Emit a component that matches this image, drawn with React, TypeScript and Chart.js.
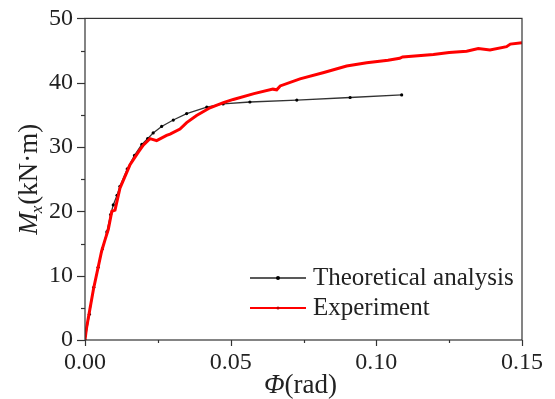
import React, { useEffect, useRef } from "react";
import { Chart, registerables } from "chart.js";

Chart.register(...registerables);

const expX = [0, 0.0005, 0.0029, 0.0057, 0.0069, 0.008, 0.0092, 0.0103, 0.012, 0.0154, 0.0183, 0.02, 0.0223, 0.0246, 0.028, 0.0292, 0.0326, 0.0349, 0.0383, 0.0429, 0.0475, 0.0509, 0.058, 0.0645, 0.0658, 0.067, 0.0738, 0.082, 0.0898, 0.0967, 0.104, 0.108, 0.109, 0.1196, 0.125, 0.131, 0.135, 0.139, 0.1447, 0.146, 0.15];
const expY = [0, 1.8, 7.9, 13.8, 15.6, 17.2, 20.0, 20.2, 23.6, 27.2, 29.2, 30.3, 31.3, 31.0, 31.8, 32.0, 32.8, 33.8, 34.9, 36.1, 36.9, 37.4, 38.3, 39.0, 38.9, 39.5, 40.6, 41.6, 42.6, 43.1, 43.5, 43.8, 44.0, 44.4, 44.7, 44.9, 45.3, 45.1, 45.6, 46.0, 46.2];

const theoX = [0, 0.0015, 0.003, 0.0045, 0.006, 0.0075, 0.0088, 0.0097, 0.011, 0.012, 0.0145, 0.017, 0.0195, 0.0215, 0.0234, 0.0263, 0.0303, 0.0349, 0.0418, 0.0474, 0.0566, 0.0727, 0.091, 0.1087];
const theoY = [0, 4, 8.2, 11.3, 14.2, 16.8, 19.5, 21, 22.5, 23.9, 26.6, 28.7, 30.4, 31.3, 32.2, 33.2, 34.2, 35.2, 36.2, 36.7, 37.0, 37.3, 37.7, 38.1];

const seriesNames = ["Theoretical analysis", "Experiment"];
const xTickLabels = ["0.00", "0.05", "0.10", "0.15"];
const yTickLabels = ["0", "10", "20", "30", "40", "50"];

const SERIF = '"Liberation Serif", "Times New Roman", serif';
const TEXT = "#222";
const AXIS = "#333";

const customPlugin = {
  id: "customDecor",
  afterDraw(chart: any) {
    const { ctx, chartArea } = chart;
    const xs = chart.scales.x;
    const ys = chart.scales.y;
    ctx.save();
    // frame
    ctx.strokeStyle = AXIS;
    ctx.lineWidth = 1.2;
    ctx.strokeRect(chartArea.left, chartArea.top, chartArea.right - chartArea.left, chartArea.bottom - chartArea.top);
    // ticks
    ys.ticks.forEach((t: any, i: number) => {
      const p = Math.round(ys.getPixelForValue(t.value)) + 0.5;
      const len = i % 2 === 0 ? 8 : 4;
      ctx.beginPath();
      ctx.moveTo(chartArea.left, p);
      ctx.lineTo(chartArea.left - len, p);
      ctx.stroke();
    });
    xs.ticks.forEach((t: any, i: number) => {
      const p = Math.round(xs.getPixelForValue(t.value)) + 0.5;
      const len = i % 2 === 0 ? 6 : 3;
      ctx.beginPath();
      ctx.moveTo(p, chartArea.bottom);
      ctx.lineTo(p, chartArea.bottom + len);
      ctx.stroke();
    });

    // x title
    ctx.fillStyle = TEXT;
    ctx.textBaseline = "alphabetic";
    ctx.textAlign = "left";
    const fPhi = "italic 27px " + SERIF;
    const fReg = "27px " + SERIF;
    ctx.font = fPhi;
    const wPhi = ctx.measureText("Φ").width;
    ctx.font = fReg;
    const wRad = ctx.measureText("(rad)").width;
    const cx = (chartArea.left + chartArea.right) / 2 - 3;
    let sx = cx - (wPhi + wRad) / 2;
    ctx.font = fPhi;
    ctx.fillText("Φ", sx, 393);
    ctx.font = fReg;
    ctx.fillText("(rad)", sx + wPhi, 393);

    // y title
    ctx.save();
    ctx.translate(37, (chartArea.top + chartArea.bottom) / 2);
    ctx.rotate(-Math.PI / 2);
    const fM = "italic 27px " + SERIF;
    const fSub = "italic 17px " + SERIF;
    ctx.font = fM;
    const wM = ctx.measureText("M").width;
    ctx.font = fSub;
    const wS = ctx.measureText("x").width;
    ctx.font = fReg;
    const wU = ctx.measureText("(kN·m)").width;
    let ty = -(wM + wS + wU) / 2;
    ctx.font = fM;
    ctx.fillText("M", ty, 0);
    ctx.font = fSub;
    ctx.fillText("x", ty + wM - 1, 5);
    ctx.font = fReg;
    ctx.fillText("(kN·m)", ty + wM + wS, 0);
    ctx.restore();

    // legend
    const lx0 = 250, lx1 = 306;
    const rows = [
      { y: 278, color: "#222", w: 1.5, r: 2, name: seriesNames[0] },
      { y: 308, color: "#ff0000", w: 2, r: 1.5, name: seriesNames[1] },
    ];
    rows.forEach((row) => {
      ctx.strokeStyle = row.color;
      ctx.lineWidth = row.w;
      ctx.beginPath();
      ctx.moveTo(lx0, row.y);
      ctx.lineTo(lx1, row.y);
      ctx.stroke();
      ctx.fillStyle = row.color === "#ff0000" ? "#b00" : "#000";
      ctx.beginPath();
      ctx.arc((lx0 + lx1) / 2, row.y, row.r, 0, Math.PI * 2);
      ctx.fill();
      ctx.fillStyle = TEXT;
      ctx.font = "25px " + SERIF;
      ctx.textBaseline = "alphabetic";
      ctx.fillText(row.name, 313, row.y + 7);
    });
    ctx.restore();
  },
};

export default function App() {
  const ref = useRef<HTMLCanvasElement | null>(null);
  useEffect(() => {
    if (!ref.current) return;
    const expData = expX.map((x, i) => ({ x, y: expY[i] }));
    const theoData = theoX.map((x, i) => ({ x, y: theoY[i] }));
    const chart = new Chart(ref.current, {
      type: "line",
      data: {
        datasets: [
          {
            label: seriesNames[0],
            data: theoData,
            borderColor: "#333",
            borderWidth: 1.3,
            pointRadius: 1.6,
            pointBackgroundColor: "#000",
            pointBorderWidth: 0,
            tension: 0,
            order: 2,
          },
          {
            label: seriesNames[1],
            data: expData,
            borderColor: "#ff0000",
            borderWidth: 3,
            pointRadius: 0,
            tension: 0,
            order: 1,
          },
        ],
      },
      options: {
        responsive: false,
        animation: false,
        devicePixelRatio: 1,
        layout: { padding: { left: 0, right: 33, top: 15, bottom: 0 } },
        plugins: { legend: { display: false }, tooltip: { enabled: false } },
        scales: {
          x: {
            type: "linear",
            min: 0,
            max: 0.15,
            grid: { display: false, drawTicks: true, tickLength: 6 },
            border: { display: false },
            ticks: {
              stepSize: 0.025,
              autoSkip: false,
              maxRotation: 0,
              padding: 2,
              color: TEXT,
              font: { family: SERIF, size: 24 },
              callback: (v: any, i: number) => (i % 2 === 0 ? xTickLabels[i / 2] : ""),
            },
            afterFit: (s: any) => {
              s.height = 59;
            },
          },
          y: {
            type: "linear",
            min: 0,
            max: 50,
            grid: { display: false, drawTicks: true, tickLength: 8 },
            border: { display: false },
            ticks: {
              stepSize: 5,
              autoSkip: false,
              padding: 4,
              color: TEXT,
              font: { family: SERIF, size: 24 },
              callback: (v: any, i: number) => (i % 2 === 0 ? yTickLabels[i / 2] : ""),
            },
            afterFit: (s: any) => {
              s.width = 85;
            },
          },
        },
      },
      plugins: [customPlugin],
    });
    return () => chart.destroy();
  }, []);
  return (
    <div style={{ position: "absolute", left: 0, top: 0, width: 555, height: 399, background: "#fff" }}>
      <canvas ref={ref} width={555} height={399} style={{ width: 555, height: 399 }} />
    </div>
  );
}
